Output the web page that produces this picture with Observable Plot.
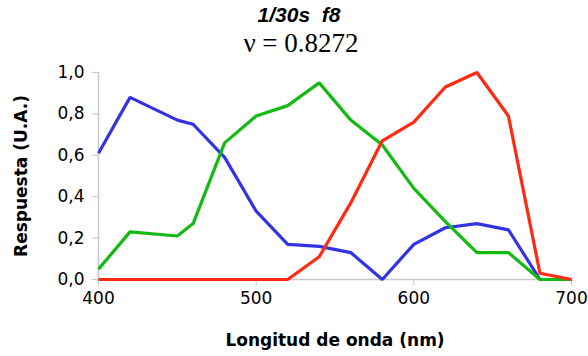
<!DOCTYPE html>
<html>
<head>
<meta charset="utf-8">
<script src="https://cdn.jsdelivr.net/npm/d3@7"></script>
<script src="https://cdn.jsdelivr.net/npm/@observablehq/plot@0.6"></script>
<style>
  body { margin: 0; background: #fff; width: 588px; }
  .title { height: 28px; text-align: center; font: italic bold 21px "Liberation Sans", Arial, sans-serif; line-height: 30px; padding-left: 10px; box-sizing: border-box; }
  .subtitle { height: 32px; text-align: center; font: 27px "Liberation Serif", "Times New Roman", serif; line-height: 30px; padding-left: 14px; box-sizing: border-box; }
  svg g[aria-label="x-axis label"] text, svg g[aria-label="y-axis label"] text { font-weight: bold; }
</style>
</head>
<body>
<div class="title">1/30s&nbsp; f8</div>
<div class="subtitle">ν = 0.8272</div>
<div id="chart"></div>
<script>
// Spectral response of the three colour channels (arbitrary units)
const wavelengths = [400, 420, 450, 460, 480, 500, 520, 540, 560, 580, 600, 620, 640, 660, 680, 700];
const blue  = [0.61, 0.88, 0.77, 0.75, 0.59, 0.33, 0.17, 0.16, 0.13, 0.00, 0.17, 0.25, 0.27, 0.24, 0.00, 0.00];
const green = [0.05, 0.23, 0.21, 0.27, 0.66, 0.79, 0.84, 0.95, 0.77, 0.65, 0.44, 0.28, 0.13, 0.13, 0.00, 0.00];
const red   = [0.00, 0.00, 0.00, 0.00, 0.00, 0.00, 0.00, 0.11, 0.37, 0.67, 0.76, 0.93, 1.00, 0.79, 0.03, 0.00];
const xTicks = [400, 500, 600, 700];
const yTicks = [0, 0.2, 0.4, 0.6, 0.8, 1.0];

const series = [
  {name: "azul", values: blue, color: "#3333e6"},
  {name: "verde", values: green, color: "#11bb11"},
  {name: "rojo", values: red, color: "#ff2a10"}
];
const rows = series.flatMap(s => wavelengths.map((w, i) => ({serie: s.name, w, v: s.values[i]})));

const chart = Plot.plot({
  width: 588,
  height: 296,
  marginLeft: 98,
  marginRight: 17,
  marginTop: 12,
  marginBottom: 77,
  style: {fontFamily: "DejaVu Sans, Verdana, sans-serif", fontSize: "17px", color: "#000", background: "#fff"},
  x: {domain: [400, 700]},
  y: {domain: [0, 1]},
  color: {domain: series.map(s => s.name), range: series.map(s => s.color)},
  marks: [
    Plot.ruleY([0], {stroke: "#c8c8c8", strokeWidth: 1.5}),
    Plot.ruleX([400], {stroke: "#c8c8c8", strokeWidth: 1.5}),
    Plot.axisX({ticks: xTicks, tickSize: 6, stroke: "#c8c8c8", tickPadding: 6,
      tickFormat: d => String(d), label: "Longitud de onda (nm)", labelAnchor: "center", labelArrow: "none", labelOffset: 66, fontSize: 17}),
    Plot.axisY({ticks: yTicks, tickSize: 6, stroke: "#c8c8c8", tickPadding: 8,
      tickFormat: d => d.toFixed(1).replace(".", ","), label: "Respuesta (U.A.)", labelAnchor: "center", labelArrow: "none", labelOffset: 84, fontSize: 17}),
    Plot.line(rows, {x: "w", y: "v", z: "serie", stroke: "serie", strokeWidth: 3.2, strokeLinejoin: "miter", strokeLinecap: "butt"})
  ]
});
document.getElementById("chart").append(chart);
</script>
</body>
</html>
